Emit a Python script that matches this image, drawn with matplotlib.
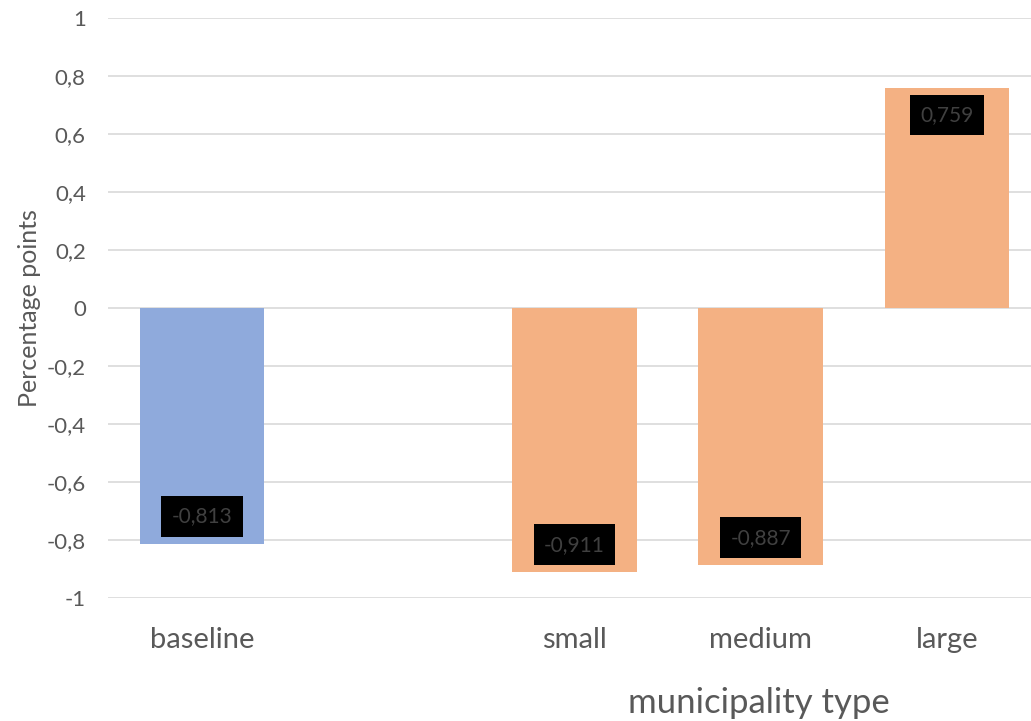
import numpy as np
import matplotlib.pyplot as plt

plt.rcParams['font.family'] = ['Lato', 'DejaVu Sans']

# Bar data
categories = ["baseline", "", "small", "medium", "large"]
values = [-0.813, np.nan, -0.911, -0.887, 0.759]
colors = ["#8faadc", "#f4b183", "#f4b183", "#f4b183", "#f4b183"]
yticks = [-1, -0.8, -0.6, -0.4, -0.2, 0, 0.2, 0.4, 0.6, 0.8, 1]

fig = plt.figure(figsize=(10.31, 7.21), dpi=100)
ax = fig.add_axes([108 / 1031, 1 - 598 / 721, 1 - 108 / 1031, (598 - 18) / 721])

x = np.arange(len(categories))
ax.bar(x, values, width=0.67, color=colors, zorder=2)

# value labels in black boxes just inside the bar ends
for xi, v in zip(x, values):
    if np.isnan(v):
        continue
    off = 19.8 if v < 0 else -19.5
    ax.annotate(f"{v:.3f}".replace(".", ","), (xi, v), xytext=(0, off),
                textcoords="offset points", ha="center", va="center",
                fontsize=15, color="#404040", zorder=3,
                bbox=dict(boxstyle="square,pad=0.5", fc="black", ec="none"))

ax.set_xlim(-0.505, 4.451)
ax.set_ylim(-1, 1)
ax.set_yticks(yticks)
ax.set_yticklabels([f"{t:g}".replace(".", ",") for t in yticks])
ax.set_xticks(x)
ax.set_xticklabels(categories)
ax.tick_params(axis="y", length=0, pad=16, labelsize=16, labelcolor="#595959")
ax.tick_params(axis="x", length=0, pad=21, labelsize=21, labelcolor="#595959")
ax.grid(axis="y", color="#d9d9d9", linewidth=1.2, zorder=0)
ax.set_axisbelow(True)
for s in ax.spines.values():
    s.set_visible(False)

ax.set_ylabel("Percentage points", fontsize=18, color="#595959", labelpad=4)
fig.text(759 / 1031, 1 - 703 / 721, "municipality type", ha="center", va="center",
         fontsize=25, color="#595959")

fig.savefig("out.png", dpi=100)
